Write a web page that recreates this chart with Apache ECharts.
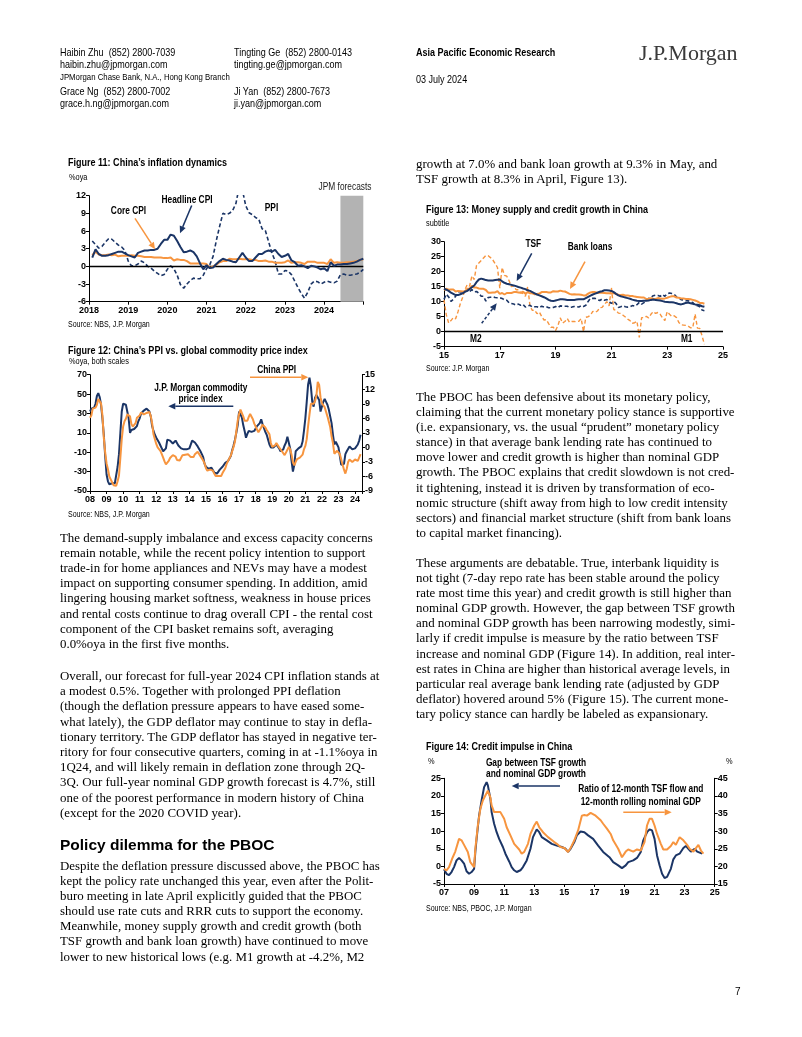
<!DOCTYPE html>
<html><head><meta charset="utf-8"><title>Asia Pacific Economic Research - page 7</title>
<script src="https://cdn.jsdelivr.net/npm/echarts@6.0.0/dist/echarts.min.js"></script>
<style>
html,body{margin:0;padding:0;background:#fff;}
#page{position:relative;width:802px;height:1037px;overflow:hidden;background:#fff;}
#chart{position:absolute;left:0;top:0;width:802px;height:1037px;}
#texts{position:absolute;left:0;top:0;width:802px;height:1037px;pointer-events:none;}
.tx{position:absolute;white-space:pre;line-height:1;color:#000;}
</style></head><body>
<div id="page"><div id="chart"></div><div id="texts"></div></div>
<script>
// ---------------- DATA ----------------
// Figure 11 (monthly, Jan 2018 - Dec 2024; Jun-Dec 2024 = JPM forecasts)
const headlineCPI = [
1.5,2.9,2.1,1.8,1.8,1.9,2.1,2.3,2.5,2.5,2.2,1.9,
1.7,1.5,2.3,2.5,2.7,2.7,2.8,2.8,3.0,3.8,4.5,4.5,
5.4,5.2,4.3,3.3,2.4,2.5,2.7,2.4,1.7,0.5,-0.5,0.2,
-0.3,-0.2,0.4,0.9,1.3,1.1,1.0,0.8,0.7,1.5,2.3,1.5,
0.9,0.9,1.5,2.1,2.1,2.5,2.7,2.5,2.8,2.1,1.6,1.8,
2.1,1.0,0.7,0.1,0.2,0.0,-0.3,0.1,0.0,-0.2,-0.5,-0.3,
-0.8,0.7,0.1,0.3,0.3,0.4,0.4,0.5,0.6,0.8,1.1,1.3];
const coreCPI = [
1.9,2.5,2.0,1.9,1.9,2.0,1.9,2.0,1.7,1.8,1.8,1.8,
1.9,1.8,1.8,1.7,1.6,1.6,1.6,1.5,1.5,1.5,1.4,1.4,
1.5,1.0,1.2,1.1,1.1,0.9,0.5,0.5,0.5,0.5,0.5,0.4,
-0.3,0.0,0.3,0.7,0.9,0.9,1.3,1.2,1.2,1.3,1.2,1.2,
1.2,1.1,1.1,0.9,0.9,1.0,0.8,0.8,0.6,0.6,0.6,0.7,
1.0,0.6,0.7,0.7,0.6,0.4,0.8,0.8,0.8,0.6,0.6,0.6,
0.4,1.2,0.6,0.7,0.6,0.6,0.7,0.7,0.8,0.9,1.1,1.2];
const ppiYoY = [
4.3,3.7,3.1,3.4,4.1,4.7,4.6,4.1,3.6,3.3,2.7,0.9,
0.1,0.1,0.4,0.9,0.6,0.0,-0.3,-0.8,-1.2,-1.6,-1.4,-0.5,
0.1,-0.4,-1.5,-3.1,-3.7,-3.0,-2.4,-2.0,-2.1,-2.1,-1.5,-0.4,
0.3,1.7,4.4,6.8,9.0,8.8,9.0,9.5,10.7,13.5,12.9,10.3,
9.1,8.8,8.3,8.0,6.4,6.1,4.2,2.3,0.9,-1.3,-1.3,-0.7,
-0.8,-1.4,-2.5,-3.6,-4.6,-5.4,-4.4,-3.0,-2.5,-2.6,-3.0,-2.7,
-2.5,-2.7,-2.8,-2.5,-1.4,-1.3,-1.5,-1.5,-1.4,-1.3,-1.0,-0.5];
const fig11Start = [2018, 1];
const forecastStart = '2024-06';

// Figure 12 (monthly, Jan 2008 - May 2024)
const chinaPPI = [
6.1,6.6,8.0,8.1,8.2,8.8,10.0,10.1,9.1,6.6,2.0,-1.1,
-3.3,-4.5,-6.0,-6.6,-7.2,-7.8,-8.2,-7.9,-7.0,-5.8,-2.1,1.7,
4.3,5.4,5.9,6.8,7.1,6.4,4.8,4.3,4.3,5.0,6.1,5.9,
6.6,7.2,7.3,6.8,6.8,7.1,7.5,7.3,6.5,5.0,2.7,1.7,
0.7,0.0,-0.3,-0.7,-1.4,-2.1,-2.9,-3.5,-3.6,-2.8,-2.2,-1.9,
-1.6,-1.6,-1.9,-2.6,-2.9,-2.7,-2.3,-1.6,-1.3,-1.5,-1.4,-1.4,
-1.6,-2.0,-2.3,-2.0,-1.4,-1.1,-0.9,-1.2,-1.8,-2.2,-2.7,-3.3,
-4.3,-4.8,-4.6,-4.6,-4.6,-4.8,-5.4,-5.9,-5.9,-5.9,-5.9,-5.9,
-5.3,-4.9,-4.3,-3.4,-2.8,-2.6,-1.7,-0.8,0.1,1.2,3.3,5.5,
6.9,7.8,7.6,6.4,5.5,5.5,5.5,6.3,6.9,6.9,5.8,4.9,
4.3,3.7,3.1,3.4,4.1,4.7,4.6,4.1,3.6,3.3,2.7,0.9,
0.1,0.1,0.4,0.9,0.6,0.0,-0.3,-0.8,-1.2,-1.6,-1.4,-0.5,
0.1,-0.4,-1.5,-3.1,-3.7,-3.0,-2.4,-2.0,-2.1,-2.1,-1.5,-0.4,
0.3,1.7,4.4,6.8,9.0,8.8,9.0,9.5,10.7,13.5,12.9,10.3,
9.1,8.8,8.3,8.0,6.4,6.1,4.2,2.3,0.9,-1.3,-1.3,-0.7,
-0.8,-1.4,-2.5,-3.6,-4.6,-5.4,-4.4,-3.0,-2.5,-2.6,-3.0,-2.7,
-2.5,-2.7,-2.8,-2.5,-1.4];
const jpmCommodity = [
32,35,37,36,40,48,51,47,39,25,8,-14,
-33,-40,-43,-43,-42,-42,-42,-40,-25,-12,10,32,
40,39,39,38,25,10,13,12,14,15,17,22,
25,30,32,33,34,35,36,32,27,17,12,8,
5,3,0,-3,-6,-9,-9,-6,3,2,2,0,
-1,-2,2,0,-3,-4,-6,-7,-7,-7,-7,-7,
-6,-4,2,1,0,-2,-4,-6,-9,-12,-15,-22,
-25,-26,-27,-27,-26,-28,-31,-33,-32,-30,-28,-26,
-25,-23,-21,-20,-19,-17,-14,-8,-3,3,10,18,
32,34,26,18,12,5,9,12,10,11,13,12,
12,17,18,20,24,19,15,11,8,3,-2,-5,
-7,-5,-3,-2,-4,-6,-9,-8,-7,-3,0,6,
5,-6,-19,-30,-23,-9,-7,-6,-7,-4,1,12,
25,42,60,67,58,42,37,46,49,51,44,32,
32,42,45,42,39,34,27,20,8,-2,1,-2,
-5,-14,-23,-24,-22,-12,-9,-7,-4,-6,-7,-7,
-6,-5,-2,2,8];
const fig12Start = [2008, 1];

// Figure 13 (monthly, Jan 2015 - May 2024)
const tsfGrowth = [
14.3,14.0,13.6,13.0,12.6,12.2,12.2,12.5,12.8,13.3,13.6,14.2,
14.8,15.4,16.5,17.4,17.7,17.5,17.2,17.1,17.1,17.1,17.2,17.3,
17.4,16.8,16.3,16.0,15.8,15.6,15.4,15.2,14.9,14.7,14.4,14.2,
13.8,13.6,13.2,12.8,12.4,12.1,11.8,11.5,11.1,10.6,10.3,10.2,
10.4,10.6,10.8,10.8,10.7,10.6,10.6,10.6,10.6,10.7,10.8,10.8,
10.8,11.2,11.6,12.0,12.4,12.7,13.0,13.3,13.5,13.8,13.8,13.7,
13.6,13.2,12.6,12.1,11.8,11.6,11.4,11.2,11.0,10.7,10.5,10.3,
10.2,10.2,10.3,10.3,10.4,10.6,10.7,10.6,10.5,10.4,10.2,10.0,
9.9,9.8,9.8,9.7,9.5,9.2,9.1,9.3,9.6,9.7,9.5,9.3,
9.1,9.0,8.8,8.5,8.3];
const bankLoans = [
13.9,14.3,14.0,14.1,14.1,13.4,13.6,13.5,13.4,13.4,14.3,14.3,
15.3,14.7,14.7,14.4,14.3,14.3,13.9,13.0,13.0,13.1,13.1,13.5,
12.6,12.9,12.4,12.9,12.9,12.9,13.2,13.2,13.1,13.0,13.3,12.7,
13.2,12.8,12.8,12.5,12.6,12.7,13.2,13.2,13.2,13.1,13.1,13.5,
13.4,13.4,13.7,13.5,13.4,13.0,12.6,12.4,12.5,12.4,12.4,12.3,
12.1,12.1,12.7,13.1,13.2,13.2,13.0,13.0,13.0,12.9,12.8,12.8,
12.7,12.9,12.6,12.3,12.2,12.3,12.1,12.1,11.9,11.9,11.7,11.6,
11.5,11.4,11.4,10.9,11.0,11.2,11.0,10.9,11.2,11.1,11.0,11.1,
11.3,11.6,11.8,11.8,11.4,11.3,11.1,11.1,10.9,10.9,10.8,10.6,
10.4,10.1,9.6,9.6,9.3];
const m2Growth = [
10.8,12.5,11.6,10.1,10.8,11.8,13.3,13.3,13.1,13.5,13.7,13.3,
14.0,13.3,13.4,12.8,11.8,11.8,10.2,11.4,11.5,11.6,11.4,11.3,
11.3,11.1,10.6,10.5,9.6,9.4,9.2,8.9,9.2,8.8,9.1,8.2,
8.6,8.8,8.2,8.3,8.3,8.0,8.5,8.2,8.3,8.0,8.0,8.1,
8.4,8.0,8.6,8.5,8.5,8.5,8.1,8.2,8.4,8.4,8.2,8.7,
8.4,8.8,10.1,11.1,11.1,11.1,10.7,10.4,10.9,10.5,10.7,10.1,
9.4,10.1,9.4,8.1,8.3,8.6,8.3,8.2,8.3,8.7,8.5,9.0,
9.8,9.2,9.7,10.5,11.1,11.4,12.0,12.2,12.1,11.8,12.4,11.8,
12.6,12.9,12.7,12.4,11.6,11.3,10.7,10.6,10.3,10.3,10.0,9.7,
8.7,8.7,8.3,7.2,7.0];
const m1Growth = [
10.6,5.6,2.9,3.7,4.7,4.3,6.6,9.3,11.4,14.0,15.7,15.2,
18.6,17.4,22.1,22.9,23.7,24.6,25.4,25.3,24.7,23.9,22.7,21.4,
14.5,21.4,18.8,18.5,17.0,15.0,15.3,14.0,14.0,13.0,12.7,11.8,
15.0,8.5,7.1,7.2,6.0,6.6,5.1,3.9,4.0,2.7,1.5,1.5,
0.4,2.0,4.6,2.9,3.4,4.4,3.1,3.4,3.4,3.3,3.5,4.4,
0.0,4.8,5.0,5.5,6.8,6.5,6.9,8.0,8.1,9.1,10.0,8.6,
14.7,7.4,7.1,6.2,6.1,5.5,4.9,4.2,3.7,2.8,3.0,3.5,
-1.9,4.7,4.7,5.1,4.6,5.8,6.7,6.1,6.4,5.8,4.6,3.7,
6.7,5.8,5.1,5.3,4.7,3.1,2.3,2.2,2.1,1.9,1.3,1.3,
5.9,1.2,1.1,-1.4,-4.2];
const fig13Start = [2015, 1];

// Figure 14
const gapTSFvsGDP = [
['2007-01',-0.8],['2007-03',-2.1],['2007-05',-2.5],['2007-07',-1.6],['2007-09',-0.2],['2007-11',1.7],
['2008-01',2.4],['2008-03',1.7],['2008-05',0.8],['2008-07',-1.4],['2008-09',-2.1],['2008-11',-1.6],
['2009-01',-0.7],['2009-02',4.1],['2009-03',7.8],['2009-05',14.4],['2009-07',18.7],['2009-09',22.5],
['2009-11',23.9],['2009-12',23.0],['2010-02',19.2],['2010-03',15.4],['2010-05',12.1],['2010-07',9.7],
['2010-09',7.8],['2010-12',5.5],['2011-02',3.6],['2011-05',1.4],['2011-07',-0.2],['2011-09',-1.1],
['2011-11',-1.6],['2012-02',-1.1],['2012-04',-0.2],['2012-07',1.7],['2012-10',5.0],['2012-12',8.3],
['2013-03',10.5],['2013-05',9.7],['2013-07',8.3],['2013-11',7.4],['2014-03',6.4],['2014-07',5.9],
['2014-11',5.5],['2015-02',5.0],['2015-04',4.1],['2015-06',5.0],['2015-09',6.9],['2015-11',8.8],
['2016-02',9.9],['2016-05',9.7],['2016-08',8.8],['2016-12',7.8],['2017-04',5.9],['2017-08',4.1],
['2018-01',2.6],['2018-04',1.2],['2018-08',0.3],['2018-11',-0.5],['2019-02',0.3],['2019-04',1.2],
['2019-08',1.7],['2019-11',2.4],['2020-02',4.1],['2020-04',7.4],['2020-07',9.7],['2020-09',10.5],
['2020-11',10.2],['2021-01',7.8],['2021-03',3.1],['2021-05',0.3],['2021-07',-2.1],['2021-09',-3.3],
['2021-11',-3.0],['2022-02',-0.7],['2022-04',2.0],['2022-06',3.1],['2022-09',3.6],['2022-12',5.2],
['2023-02',5.8],['2023-04',5.0],['2023-06',4.2],['2023-09',5.0],['2023-11',4.2],['2024-03',3.6]];
const tsfFlowToGDP = [
['2007-01',19.3],['2007-03',18.9],['2007-05',19.8],['2007-08',22.6],['2007-10',24.2],['2008-01',27.8],
['2008-03',27.4],['2008-05',26.1],['2008-08',24.1],['2008-10',21.2],['2009-01',19.8],['2009-02',25.0],
['2009-04',31.6],['2009-06',36.3],['2009-08',38.7],['2009-10',40.1],['2009-12',41.5],['2010-02',39.6],
['2010-03',37.3],['2010-05',35.4],['2010-07',35.4],['2010-10',35.4],['2011-01',33.5],['2011-03',31.1],
['2011-06',28.8],['2011-09',26.4],['2012-01',24.8],['2012-03',23.6],['2012-05',24.1],['2012-08',26.4],
['2012-10',29.2],['2013-01',31.6],['2013-03',32.7],['2013-05',31.1],['2013-08',29.7],['2013-12',28.3],
['2014-05',26.9],['2014-07',26.4],['2014-10',25.5],['2015-01',25.2],['2015-04',24.1],['2015-06',25.2],
['2015-09',27.4],['2015-12',30.2],['2016-03',34.4],['2016-05',34.6],['2016-07',34.4],['2016-10',35.2],
['2017-02',34.4],['2017-06',33.1],['2017-08',32.1],['2017-11',30.7],['2018-02',29.2],['2018-04',27.4],
['2018-08',25.0],['2018-11',22.6],['2019-02',24.2],['2019-04',24.8],['2019-08',24.2],['2019-11',24.8],
['2020-02',24.5],['2020-05',26.9],['2020-07',31.6],['2020-09',33.5],['2020-11',33.5],['2021-01',31.6],
['2021-03',29.2],['2021-06',26.4],['2021-08',24.8],['2021-11',24.8],['2022-02',25.8],['2022-04',26.9],
['2022-06',26.1],['2022-09',28.3],['2022-12',27.4],['2023-03',26.1],['2023-05',25.0],['2023-08',24.2],
['2023-10',25.2],['2023-12',26.1],['2024-02',24.5],['2024-04',23.6]];

// Axis tick settings
const fig11Y = {min:-6, max:12, interval:3};
const fig12YL = {min:-50, max:70, interval:20};
const fig12YR = {min:-9, max:15, interval:3};
const fig13Y = {min:-5, max:30, interval:5};
const fig14YL = {min:-5, max:25, interval:5};
const fig14YR = {min:15, max:45, interval:5};

// Text
const headerLines = [
 ['Haibin Zhu  (852) 2800-7039',60,53,'hdr'],
 ['haibin.zhu@jpmorgan.com',60,65,'hdr'],
 ['JPMorgan Chase Bank, N.A., Hong Kong Branch',60,77,'hdrs'],
 ['Grace Ng  (852) 2800-7002',60,92,'hdr'],
 ['grace.h.ng@jpmorgan.com',60,104,'hdr'],
 ['Tingting Ge  (852) 2800-0143',234,53,'hdr'],
 ['tingting.ge@jpmorgan.com',234,65,'hdr'],
 ['Ji Yan  (852) 2800-7673',234,92,'hdr'],
 ['ji.yan@jpmorgan.com',234,104,'hdr'],
 ['Asia Pacific Economic Research',416,53,'hdrb'],
 ['03 July 2024',416,80,'hdr'],
 ['J.P.Morgan',639,54,'logo']
];
const figureTexts = [
 ['Figure 11: China\u2019s inflation dynamics',68,163,'ftitle'],
 ['%oya',69,178,'fsub'],
 ['Source: NBS, J.P. Morgan',68,324,'fsrc'],
 ['Figure 12: China\u2019s PPI vs. global commodity price index',68,351,'ftitle'],
 ['%oya, both scales',69,362,'fsub'],
 ['Source: NBS, J.P. Morgan',68,514,'fsrc'],
 ['Figure 13: Money supply and credit growth in China',426,210,'ftitle'],
 ['subtitle',426,224,'fsub'],
 ['Source: J.P. Morgan',426,368,'fsrc'],
 ['Figure 14: Credit impulse in China',426,746.7,'ftitle'],
 ['%',428,762,'fsub'],
 ['%',726,762,'fsub'],
 ['Source: NBS, PBOC, J.P. Morgan',426,908,'fsrc'],
 ['Policy dilemma for the PBOC',60,845,'h2'],
 ['7',735,992,'pnum']
];
const leftPara1 = [
'The demand-supply imbalance and excess capacity concerns',
'remain notable, while the recent policy intention to support',
'trade-in for home appliances and NEVs may have a modest',
'impact on supporting consumer spending. In addition, amid',
'lingering housing market softness, weakness in house prices',
'and rental costs continue to drag overall CPI - the rental cost',
'component of the CPI basket remains soft, averaging',
'0.0%oya in the first five months.'];
const leftPara2 = [
'Overall, our forecast for full-year 2024 CPI inflation stands at',
'a modest 0.5%. Together with prolonged PPI deflation',
'(though the deflation pressure appears to have eased some-',
'what lately), the GDP deflator may continue to stay in defla-',
'tionary territory. The GDP deflator has stayed in negative ter-',
'ritory for four consecutive quarters, coming in at -1.1%oya in',
'1Q24, and will likely remain in deflation zone through 2Q-',
'3Q. Our full-year nominal GDP growth forecast is 4.7%, still',
'one of the poorest performance in modern history of China',
'(except for the 2020 COVID year).'];
const leftPara3 = [
'Despite the deflation pressure discussed above, the PBOC has',
'kept the policy rate unchanged this year, even after the Polit-',
'buro meeting in late April explicitly guided that the PBOC',
'should use rate cuts and RRR cuts to support the economy.',
'Meanwhile, money supply growth and credit growth (both',
'TSF growth and bank loan growth) have continued to move',
'lower to new historical lows (e.g. M1 growth at -4.2%, M2'];
const rightPara0 = [
'growth at 7.0% and bank loan growth at 9.3% in May, and',
'TSF growth at 8.3% in April, Figure 13).'];
const rightPara1 = [
'The PBOC has been defensive about its monetary policy,',
'claiming that the current monetary policy stance is supportive',
'(i.e. expansionary, vs. the usual \u201cprudent\u201d monetary policy',
'stance) in that average bank lending rate has continued to',
'move lower and credit growth is higher than nominal GDP',
'growth. The PBOC explains that credit slowdown is not cred-',
'it tightening, instead it is driven by transformation of eco-',
'nomic structure (shift away from high to low credit intensity',
'sectors) and financial market structure (shift from bank loans',
'to capital market financing).'];
const rightPara2 = [
'These arguments are debatable. True, interbank liquidity is',
'not tight (7-day repo rate has been stable around the policy',
'rate most time this year) and credit growth is still higher than',
'nominal GDP growth. However, the gap between TSF growth',
'and nominal GDP growth has been narrowing modestly, simi-',
'larly if credit impulse is measure by the ratio between TSF',
'increase and nominal GDP (Figure 14). In addition, real inter-',
'est rates in China are higher than historical average levels, in',
'particular real average bank lending rate (adjusted by GDP',
'deflator) hovered around 5% (Figure 15). The current mone-',
'tary policy stance can hardly be labeled as expansionary.'];

// ---------------- HELPERS ----------------
function hasFont(name){
  const c=document.createElement('canvas').getContext('2d');
  const s='abcdefghijklmnopqrstuvwxyz0123456789ABCDEFG';
  c.font='40px monospace'; const a=c.measureText(s).width;
  c.font='40px "'+name+'", monospace'; const b=c.measureText(s).width;
  return Math.abs(a-b)>0.5;
}
const NARROW = hasFont('Liberation Sans Narrow');
const FAM_N = NARROW ? "'Liberation Sans Narrow', 'Liberation Sans', Arial, sans-serif" : "'Liberation Sans', Arial, sans-serif";
const SX = NARROW ? 1 : 0.82;
const SANS = "'Liberation Sans', Arial, sans-serif";
const SERIF = "'Liberation Serif', 'Times New Roman', serif";

function monthRange(y0,m0,n){const out=[];let y=y0,m=m0;for(let i=0;i<n;i++){out.push(y+'-'+String(m).padStart(2,'0'));m++;if(m>12){m=1;y++;}}return out;}
function toX(ym,off){const p=ym.split('-').map(Number);return p[0]+(p[1]-1+(off||0))/12;}
function monthly(start,vals,off){const ms=monthRange(start[0],start[1],vals.length);return vals.map((v,i)=>[toX(ms[i],off),v]);}
function listed(list){return list.map(d=>[toX(d[0],0),d[1]]);}

// ---------------- TEXT LAYER ----------------
const KINDS = {
 hdr:{size:11,fam:FAM_N,sx:SX,c:0.52},
 hdrs:{size:9.5,fam:FAM_N,sx:SX,c:0.52},
 hdrb:{size:11,fam:FAM_N,sx:SX,bold:1,c:0.52},
 logo:{size:22,fam:SERIF,sx:1,c:0.55,color:'#3a3a3a'},
 ftitle:{size:11,fam:FAM_N,sx:SX,bold:1,c:0.52},
 fsub:{size:9,fam:FAM_N,sx:SX,c:0.52},
 fsrc:{size:8.6,fam:FAM_N,sx:SX,c:0.52},
 body:{size:12.9,fam:SERIF,sx:1,c:0.55},
 h2:{size:15.5,fam:SANS,sx:1,bold:1,c:0.52},
 pnum:{size:10,fam:SANS,sx:1,c:0.52}
};
const layer=document.getElementById('texts');
function addText(t,x,y,kind){
  const k=KINDS[kind];const d=document.createElement('div');d.className='tx';d.textContent=t;
  d.style.left=x+'px';d.style.top=(y-k.size*k.c)+'px';d.style.fontSize=k.size+'px';
  d.style.fontFamily=k.fam;d.style.fontWeight=k.bold?'bold':'normal';
  if(k.sx!==1){d.style.transform='scaleX('+k.sx+')';d.style.transformOrigin='0 50%';}
  if(k.color)d.style.color=k.color;
  layer.appendChild(d);
}
headerLines.forEach(r=>addText(r[0],r[1],r[2],r[3]));
figureTexts.forEach(r=>addText(r[0],r[1],r[2],r[3]));
function addPara(lines,x,y0,step){lines.forEach((l,i)=>addText(l,x,y0+i*step,'body'));}
addPara(leftPara1,60,538.7,15.2);
addPara(leftPara2,60,677,15.2);
addPara(leftPara3,60,867,15.1);
addPara(rightPara0,416,165,15.2);
addPara(rightPara1,416,398,15.1);
addPara(rightPara2,416,564,15.1);

// ---------------- CHART ----------------
const NAVY='#1b3566', ORANGE='#f7953f';
const AXF = {fontFamily:FAM_N, fontWeight:'bold', fontSize:NARROW?10.5:9, color:'#000'};
function xAx(grid,min,max,interval,fmt){
  return {type:'value',gridIndex:grid,min,max,interval,
    axisLine:{show:true,onZero:false,lineStyle:{color:'#000',width:1}},
    axisTick:{show:true,length:3,lineStyle:{color:'#000',width:1}},
    splitLine:{show:false},minorTick:{show:false},
    axisLabel:Object.assign({margin:4,formatter:fmt,hideOverlap:false},AXF)};
}
function yAx(grid,cfg,pos){
  return {type:'value',gridIndex:grid,position:pos||'left',min:cfg.min,max:cfg.max,interval:cfg.interval,
    axisLine:{show:true,onZero:false,lineStyle:{color:'#000',width:1}},
    axisTick:{show:true,length:3,lineStyle:{color:'#000',width:1}},
    splitLine:{show:false},
    axisLabel:Object.assign({margin:3,hideOverlap:false},AXF)};
}
function ln(xi,yi,data,color,width,dashed,z){
  return {type:'line',xAxisIndex:xi,yAxisIndex:yi,data,symbol:'none',showSymbol:false,silent:true,
    lineStyle:{color,width,type:dashed?[4,2.5]:'solid'},itemStyle:{color},z,animation:false,clip:true};
}
function zeroLine(xi,yi){
  return {type:'line',xAxisIndex:xi,yAxisIndex:yi,data:[],z:3,silent:true,
    markLine:{silent:true,symbol:['none','none'],animation:false,label:{show:false},
      lineStyle:{color:'#000',width:1.3,type:'solid'},data:[{yAxis:0}]}};
}
const yearFmt = v => (Math.abs(v-Math.round(v))<1e-6 && v<2025) ? String(Math.round(v)) : '';
const yy = v => Math.abs(v-Math.round(v))<1e-6 ? String(Math.round(v)).slice(2) : '';

// annotations (arrows + labels)
function arrow(x1,y1,x2,y2,color,dashed){
  const a=Math.atan2(y2-y1,x2-x1),L=7,W=3.2;
  const bx=x2-L*Math.cos(a),by=y2-L*Math.sin(a),px=-Math.sin(a)*W,py=Math.cos(a)*W;
  return [
    {type:'line',z:100,silent:true,shape:{x1,y1,x2:bx,y2:by},style:{stroke:color,lineWidth:1.5,lineDash:dashed?[3,2]:null}},
    {type:'polygon',z:100,silent:true,shape:{points:[[x2,y2],[bx+px,by+py],[bx-px,by-py]]},style:{fill:color}}
  ];
}
function lab(text,x,y,bold,size,color){
  return {type:'text',z:101,silent:true,x,y,scaleX:SX,
    style:{text,fill:color||'#000',fontFamily:FAM_N,fontWeight:bold?'bold':'normal',fontSize:size||10.2,align:'center',verticalAlign:'middle'}};
}
const graphics = [].concat(
  lab('Headline CPI',187,200,true), arrow(191.7,205.5,180,233.3,NAVY),
  lab('Core CPI',128.5,211,true), arrow(135,218.3,155,249.3,ORANGE),
  lab('PPI',271.5,208.3,true),
  lab('JPM forecasts',345,187.3,false,10.2,'#222'),
  lab('China PPI',276.7,370.3,true), arrow(250,377.3,308.3,377.3,ORANGE),
  lab('J.P. Morgan commodity',200.8,388,true), lab('price index',200.5,399,true),
  arrow(233.3,406.3,168.3,406.3,NAVY),
  lab('TSF',533.3,244.3,true), arrow(531.7,253.3,516.7,281,NAVY),
  lab('Bank loans',590,246.7,true), arrow(585,261.7,570,289,ORANGE),
  lab('M2',475.8,339,true), arrow(481.7,323.3,496.7,303.3,NAVY,true),
  lab('M1',686.7,339,true),
  lab('Gap between TSF growth',536,763.3,true), lab('and nominal GDP growth',536,774.3,true),
  arrow(560,786,511.7,786,NAVY),
  lab('Ratio of 12-month TSF flow and',640.8,789.3,true), lab('12-month rolling nominal GDP',640.8,801.7,true),
  arrow(623.3,812.3,671.7,812.3,ORANGE)
);

const option = {
  animation:false,
  backgroundColor:'transparent',
  grid:[
    {left:89,top:195.7,width:274.3,height:106,outerBoundsMode:'none'},
    {left:90,top:374.7,width:272,height:116.3,outerBoundsMode:'none'},
    {left:444,top:241.7,width:279,height:105,outerBoundsMode:'none'},
    {left:444,top:778.3,width:270.7,height:105.7,outerBoundsMode:'none'}
  ],
  xAxis:[
    xAx(0,2018,2025,1,yearFmt),
    xAx(1,2008,2024.42,1,yy),
    xAx(2,2015,2025,2,yy),
    xAx(3,2007,2025,2,yy)
  ],
  yAxis:[
    yAx(0,fig11Y),
    yAx(1,fig12YL),
    yAx(1,fig12YR,'right'),
    yAx(2,fig13Y),
    yAx(3,fig14YL),
    yAx(3,fig14YR,'right')
  ],
  series:[
    // Figure 11
    {type:'line',xAxisIndex:0,yAxisIndex:0,data:[],z:1,silent:true,
      markArea:{silent:true,animation:false,itemStyle:{color:'#b3b3b3'},data:[[{xAxis:toX(forecastStart,0)},{xAxis:2025}]]}},
    zeroLine(0,0),
    ln(0,0,monthly(fig11Start,ppiYoY,1),NAVY,1.6,true,4),
    ln(0,0,monthly(fig11Start,coreCPI,1),ORANGE,2,false,5),
    ln(0,0,monthly(fig11Start,headlineCPI,1),NAVY,2,false,6),
    // Figure 12
    ln(1,1,monthly(fig12Start,jpmCommodity,0),NAVY,2,false,4),
    ln(1,2,monthly(fig12Start,chinaPPI,0),ORANGE,2,false,5),
    // Figure 13
    zeroLine(2,3),
    ln(2,3,monthly(fig13Start,m1Growth,0),ORANGE,1.4,true,4),
    ln(2,3,monthly(fig13Start,m2Growth,0),NAVY,1.6,true,5),
    ln(2,3,monthly(fig13Start,bankLoans,0),ORANGE,2,false,6),
    ln(2,3,monthly(fig13Start,tsfGrowth,0),NAVY,2,false,7),
    // Figure 14
    ln(3,4,listed(gapTSFvsGDP),NAVY,2,false,4),
    ln(3,5,listed(tsfFlowToGDP),ORANGE,2,false,5)
  ],
  graphic:graphics
};
const chart = echarts.init(document.getElementById('chart'),null,{renderer:'canvas'});
chart.setOption(option);
</script>
</body></html>
